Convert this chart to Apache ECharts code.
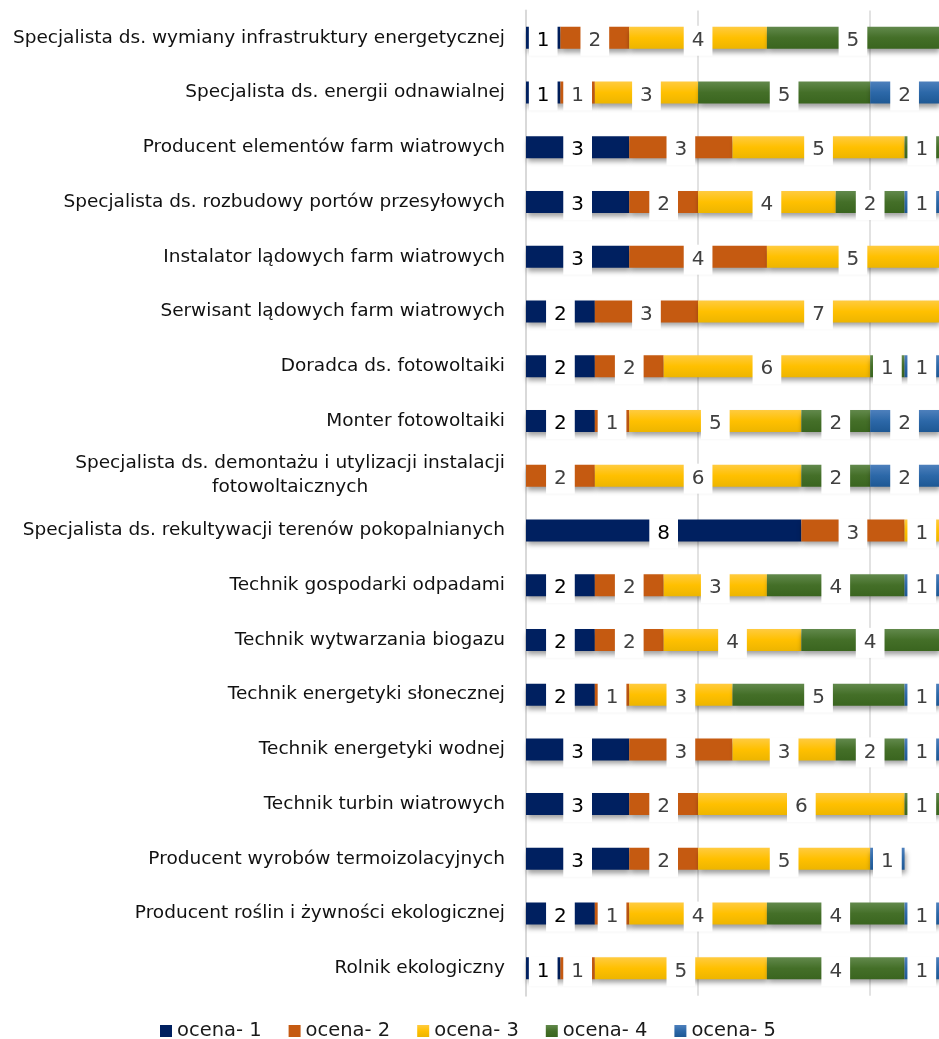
<!DOCTYPE html>
<html>
<head>
<meta charset="utf-8">
<script src="https://cdn.jsdelivr.net/npm/echarts@6/dist/echarts.min.js"></script>
<style>
html,body{margin:0;padding:0;background:#fff;}
#chart{width:939px;height:1039px;}
</style>
</head>
<body>
<div id="chart"></div>
<script>
var categories = [
  'Specjalista ds. wymiany infrastruktury energetycznej',
  'Specjalista ds. energii odnawialnej',
  'Producent elementów farm wiatrowych',
  'Specjalista ds. rozbudowy portów przesyłowych',
  'Instalator lądowych farm wiatrowych',
  'Serwisant lądowych farm wiatrowych',
  'Doradca ds. fotowoltaiki',
  'Monter fotowoltaiki',
  'Specjalista ds. demontażu i utylizacji instalacji\nfotowoltaicznych',
  'Specjalista ds. rekultywacji terenów pokopalnianych',
  'Technik gospodarki odpadami',
  'Technik wytwarzania biogazu',
  'Technik energetyki słonecznej',
  'Technik energetyki wodnej',
  'Technik turbin wiatrowych',
  'Producent wyrobów termoizolacyjnych',
  'Producent roślin i żywności ekologicznej',
  'Rolnik ekologiczny'
];
var seriesNames = ['ocena- 1', 'ocena- 2', 'ocena- 3', 'ocena- 4', 'ocena- 5'];
var ocena1 = [1, 1, 3, 3, 3, 2, 2, 2, 0, 8, 2, 2, 2, 3, 3, 3, 2, 1];
var ocena2 = [2, 1, 3, 2, 4, 3, 2, 1, 2, 3, 2, 2, 1, 3, 2, 2, 1, 1];
var ocena3 = [4, 3, 5, 4, 5, 7, 6, 5, 6, 1, 3, 4, 3, 3, 6, 5, 4, 5];
var ocena4 = [5, 5, 1, 2, 0, 0, 1, 2, 2, 0, 4, 4, 5, 2, 1, 0, 4, 4];
var ocena5 = [0, 2, 0, 1, 0, 0, 1, 2, 2, 0, 1, 0, 1, 1, 0, 1, 1, 1];
var xTicks = [0, 5, 10];

var FONT = 'DejaVu Sans';
function grad(top, mid, bottom) {
  return new echarts.graphic.LinearGradient(0, 0, 0, 1, [
    {offset: 0, color: top}, {offset: 0.5, color: mid}, {offset: 1, color: bottom}
  ]);
}
var colors = [
  '#002060',
  '#C55A11',
  grad('#FFCB40', '#FFC000', '#EDB500'),
  grad('#62894C', '#446F28', '#3A651F'),
  grad('#4E80BC', '#2C68A8', '#1E5894')
];
var allData = [ocena1, ocena2, ocena3, ocena4, ocena5];

var series = allData.map(function (arr, i) {
  return {
    name: seriesNames[i],
    type: 'bar',
    stack: 'total',
    barWidth: 22,
    itemStyle: {
      color: colors[i],
      shadowColor: 'rgba(0,0,0,0.38)',
      shadowBlur: 5,
      shadowOffsetY: 4,
      shadowOffsetX: 1
    },
    label: {
      show: true,
      position: 'inside',
      backgroundColor: '#ffffff',
      padding: [5, 8, 5, 8],
      fontSize: 20,
      lineHeight: 20,
      fontFamily: FONT,
      color: i === 0 ? '#000000' : '#404040',
      offset: [0, 3]
    },
    emphasis: {disabled: true},
    data: arr.map(function (v) {
      return v === 0 ? {value: 0, label: {show: false}} : v;
    })
  };
});

var chart = echarts.init(document.getElementById('chart'), null, {renderer: 'canvas'});
chart.setOption({
  animation: false,
  backgroundColor: '#ffffff',
  color: colors,
  grid: {left: 526, right: 0, top: 10.4, bottom: 43.3, containLabel: false},
  legend: {
    data: seriesNames,
    left: 155,
    top: 1016,
    itemWidth: 12,
    itemHeight: 12,
    itemGap: 27,
    icon: 'rect',
    textStyle: {fontFamily: FONT, fontSize: 19.5, color: '#1a1a1a'}
  },
  xAxis: {
    type: 'value',
    min: xTicks[0],
    max: 12,
    interval: xTicks[1] - xTicks[0],
    axisLabel: {show: false},
    axisLine: {show: false},
    axisTick: {show: false},
    splitLine: {show: true, showMinLine: false, showMaxLine: false, lineStyle: {color: '#D9D9D9', width: 1.5}}
  },
  yAxis: {
    type: 'category',
    inverse: true,
    data: categories,
    axisLine: {show: true, lineStyle: {color: '#D9D9D9', width: 2}},
    axisTick: {show: false},
    axisLabel: {
      margin: 21,
      fontFamily: FONT,
      fontSize: 18.5,
      color: '#111111',
      formatter: function (v) {
        return v.split('\n').map(function (l) { return '{c|' + l + '}'; }).join('\n');
      },
      rich: {
        c: {align: 'center', fontFamily: FONT, fontSize: 18.5, color: '#111111', lineHeight: 24}
      }
    }
  },
  series: series
});
</script>
</body>
</html>
